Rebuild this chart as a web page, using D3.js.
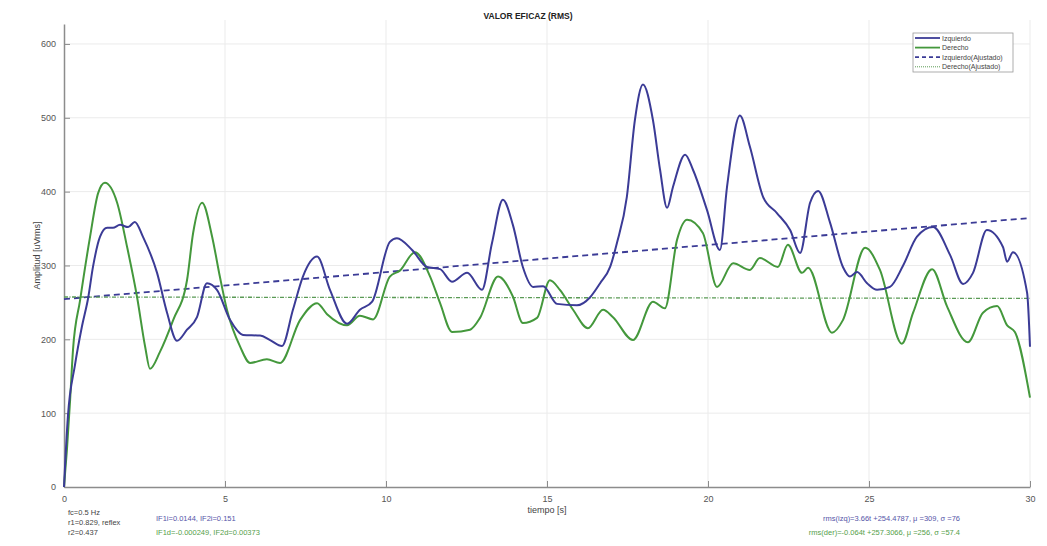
<!DOCTYPE html>
<html>
<head>
<meta charset="utf-8">
<script src="https://cdn.jsdelivr.net/npm/d3@7"></script>
<style>
  body { margin: 0; background: #fff; }
  svg { font-family: "Liberation Sans", Arial, sans-serif; }
  .grid line { stroke: #ebebeb; }
  .ax path, .ax line { stroke: #8c8c8c; }
  .ax text { fill: #555; font-size: 9px; }
</style>
</head>
<body>
<svg id="chart" width="1047" height="546"></svg>
<script>
// time samples [s] and rms values [uVrms]
var izqT = [0, 0.12, 0.34, 0.56, 0.75, 0.9, 1.12, 1.34, 1.52, 1.74, 1.99, 2.2, 2.45, 2.89, 3.2, 3.51, 3.82, 4.13, 4.44, 4.75,
  5.16, 5.56, 6.09, 6.4, 6.77, 7.11, 7.42, 7.86, 8.26, 8.79, 9.19, 9.57, 10.12, 10.34, 10.81, 11.27, 11.68, 12.05, 12.52, 12.98,
  13.29, 13.63, 13.94, 14.25, 14.57, 14.88, 15.31, 15.93, 16.34, 16.65, 16.96, 17.17, 17.48, 17.73, 17.98, 18.29, 18.51, 18.73, 18.91, 19.29,
  19.53, 19.97, 20.37, 20.59, 20.99, 21.3, 21.71, 22.14, 22.55, 22.86, 23.17, 23.42, 23.79, 24.19, 24.41, 24.63, 24.94, 25.25, 25.65, 26.06,
  26.49, 26.99, 27.52, 27.92, 28.23, 28.66, 29.16, 29.29, 29.47, 29.91, 30]
var izqV = [0, 95, 165, 218, 256, 298, 339, 351, 351, 355, 352, 359, 339, 290, 236, 198, 213, 230, 276, 267,
  226, 206, 205, 199, 191, 240, 285, 312, 267, 221, 240, 251, 332, 337, 321, 298, 295, 278, 290, 267,
  330, 389, 355, 298, 271, 272, 248, 246, 257, 276, 298, 330, 393, 497, 545, 497, 430, 378, 406, 450,
  430, 375, 321, 406, 503, 461, 393, 371, 348, 317, 385, 401, 358, 298, 285, 291, 276, 267, 271, 300,
  339, 352, 314, 275, 290, 348, 325, 305, 318, 263, 190]

var derT = [0, 0.09, 0.19, 0.28, 0.5, 0.81, 1.06, 1.27, 1.65, 1.96, 2.27, 2.52, 2.67, 2.98, 3.39, 3.82, 4.01, 4.29, 4.6, 4.84,
  5.06, 5.47, 5.78, 6.3, 6.71, 7.33, 7.86, 8.17, 8.79, 9.19, 9.6, 10.12, 10.43, 10.9, 11.37, 11.68, 12.05, 12.61, 12.92, 13.48,
  13.94, 14.25, 14.69, 15.09, 15.4, 15.81, 16.27, 16.74, 17.05, 17.67, 18.29, 18.66, 19.04, 19.35, 19.84, 20.28, 20.78, 21.3, 21.61, 22.17,
  22.48, 22.92, 23.11, 23.85, 24.19, 24.88, 25.34, 26.02, 26.37, 26.96, 27.42, 28.07, 28.54, 28.98, 29.29, 29.53, 30]
var derV = [0, 50, 118, 186, 253, 339, 398, 412, 385, 325, 257, 190, 160, 183, 226, 280, 344, 385, 339, 285,
  240, 190, 168, 173, 168, 226, 249, 234, 219, 232, 227, 285, 293, 318, 285, 249, 210, 213, 229, 285,
  258, 222, 229, 280, 267, 240, 215, 240, 230, 199, 251, 242, 335, 362, 344, 271, 303, 294, 310, 298,
  328, 290, 297, 209, 226, 324, 294, 194, 236, 295, 245, 196, 236, 245, 219, 210, 121]

// linear fits: rms = a*t + b
var fitIzq = [3.66, 254.4787]
var fitDer = [-0.064, 257.3066]

var xTicks = [0, 5, 10, 15, 20, 25, 30]
var yTicks = [0, 100, 200, 300, 400, 500, 600]

var infoLeft = ['fc=0.5 Hz', 'r1=0.829, reflex', 'r2=0.437']
var infoIzq = ['IF1i=0.0144, IF2i=0.151', 'rms(izq)=3.66t +254.4787, \u03bc =309, \u03c3 =76']
var infoDer = ['IF1d=-0.000249, IF2d=0.00373', 'rms(der)=-0.064t +257.3066, \u03bc =256, \u03c3 =57.4']

var blue = '#3b3b96'
var green = '#44983c'

var svg = d3.select('#chart')
var margin = {top: 24, left: 64, right: 17, bottom: 59}
var w = 1047 - margin.left - margin.right
var h = 546 - margin.top - margin.bottom

var x = d3.scaleLinear().domain([0, 30]).range([0, w])
var y = d3.scaleLinear().domain([0, 627]).range([h, 0])

var g = svg.append('g').attr('transform', `translate(${margin.left},${margin.top})`)

// grid
g.append('g').classed('grid', true)
  .selectAll('line.v').data(xTicks.slice(1)).enter().append('line')
  .attr('x1', d => x(d)).attr('x2', d => x(d)).attr('y1', -4).attr('y2', h)
g.select('.grid')
  .selectAll('line.h').data(yTicks.slice(1)).enter().append('line')
  .attr('x1', 0).attr('x2', w).attr('y1', d => y(d)).attr('y2', d => y(d))

// axes
g.append('g').classed('ax', true)
  .attr('transform', `translate(0,${h})`)
  .call(d3.axisBottom(x).tickValues(xTicks).tickSize(-6).tickPadding(9).tickSizeOuter(0))
g.append('g').classed('ax', true)
  .call(d3.axisLeft(y).tickValues(yTicks).tickSize(-6).tickPadding(8).tickSizeOuter(0))
g.selectAll('.ax path').attr('stroke-width', 1.5)

// fitted lines
var fitLine = d3.line().x(d => x(d[0])).y(d => y(d[1]))
g.append('path')
  .attr('d', fitLine([[0, fitIzq[1]], [30, fitIzq[0] * 30 + fitIzq[1]]]))
  .attr('fill', 'none').attr('stroke', blue).attr('stroke-width', 1.8)
  .attr('stroke-dasharray', '6,4')
g.append('path')
  .attr('d', fitLine([[0, fitDer[1]], [30, fitDer[0] * 30 + fitDer[1]]]))
  .attr('fill', 'none').attr('stroke', '#5a9a55').attr('stroke-width', 1.3)
  .attr('stroke-dasharray', '4,1.5,1,1.5')

// data lines
var line = d3.line()
  .x(d => x(d[0])).y(d => y(d[1]))
  .curve(d3.curveMonotoneX)

g.append('path')
  .attr('d', line(d3.zip(derT, derV)))
  .attr('fill', 'none').attr('stroke', green).attr('stroke-width', 2)
g.append('path')
  .attr('d', line(d3.zip(izqT, izqV)))
  .attr('fill', 'none').attr('stroke', blue).attr('stroke-width', 2)

// title and labels
svg.append('text').attr('x', 528).attr('y', 19)
  .attr('text-anchor', 'middle').style('font-size', '8.5px').style('font-weight', 'bold').attr('fill', '#222')
  .text('VALOR EFICAZ (RMS)')
svg.append('text').attr('x', 547).attr('y', 513)
  .attr('text-anchor', 'middle').style('font-size', '9px').attr('fill', '#444')
  .text('tiempo [s]')
svg.append('text')
  .attr('transform', `translate(40,${margin.top + h / 2}) rotate(-90)`)
  .attr('text-anchor', 'middle').style('font-size', '9px').attr('fill', '#444')
  .text('Amplitud [uVrms]')

// legend
var leg = svg.append('g').attr('transform', 'translate(913,33)')
leg.append('rect').attr('width', 100).attr('height', 39)
  .attr('fill', '#fff').attr('stroke', '#999').attr('stroke-width', 0.8)
var legItems = [
  {name: 'Izquierdo', color: blue, dash: null, sw: 1.8},
  {name: 'Derecho', color: green, dash: null, sw: 1.8},
  {name: 'Izquierdo(Ajustado)', color: blue, dash: '4,3', sw: 1.8},
  {name: 'Derecho(Ajustado)', color: '#5a9a55', dash: '1,1', sw: 1}
]
var li = leg.selectAll('g.item').data(legItems).enter().append('g')
  .attr('transform', (d, i) => `translate(0,${5 + i * 9.6})`)
li.append('line').attr('x1', 2).attr('x2', 27).attr('y1', 0).attr('y2', 0)
  .attr('stroke', d => d.color).attr('stroke-width', d => d.sw)
  .attr('stroke-dasharray', d => d.dash)
li.append('text').attr('x', 29).attr('y', 2.5)
  .style('font-size', '7px').attr('fill', '#444').text(d => d.name)

// info texts
svg.selectAll('text.il').data(infoLeft).enter().append('text')
  .attr('x', 68).attr('y', (d, i) => 515 + i * 10)
  .style('font-size', '7.5px').attr('fill', '#444').text(d => d)
svg.append('text').attr('x', 156).attr('y', 521)
  .style('font-size', '7.5px').attr('fill', '#5555a8').text(infoIzq[0])
svg.append('text').attr('x', 156).attr('y', 535)
  .style('font-size', '7.5px').attr('fill', '#55a04a').text(infoDer[0])
svg.append('text').attr('x', 960).attr('y', 521).attr('text-anchor', 'end')
  .style('font-size', '7.5px').attr('fill', '#5555a8').text(infoIzq[1])
svg.append('text').attr('x', 960).attr('y', 535).attr('text-anchor', 'end')
  .style('font-size', '7.5px').attr('fill', '#55a04a').text(infoDer[1])
</script>
</body>
</html>
